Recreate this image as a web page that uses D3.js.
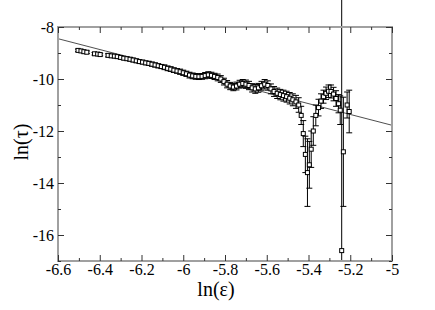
<!DOCTYPE html>
<html>
<head>
<meta charset="utf-8">
<script src="https://cdn.jsdelivr.net/npm/d3@7"></script>
<style>
  body { margin: 0; background: #fff; }
  svg text { font-family: "Liberation Serif", "Times New Roman", "DejaVu Serif", serif; }
</style>
</head>
<body>
<div id="chart"></div>
<script>
  // ln(epsilon), ln(tau) and the error on ln(tau)
  const lnEps = [
    -6.504, -6.490, -6.476, -6.462, -6.425, -6.410, -6.398, -6.360, -6.345, -6.330,
    -6.316, -6.300, -6.285, -6.270, -6.255, -6.240, -6.225, -6.210, -6.195, -6.180,
    -6.165, -6.150, -6.135, -6.120, -6.105, -6.090, -6.075, -6.060, -6.045, -6.030,
    -6.015, -6.000, -5.985, -5.970, -5.955, -5.940, -5.925, -5.910, -5.895, -5.880,
    -5.865, -5.850, -5.835, -5.820, -5.805, -5.790, -5.775, -5.760, -5.745, -5.730,
    -5.715, -5.700, -5.685, -5.670, -5.655, -5.640, -5.625, -5.610, -5.595, -5.580,
    -5.565, -5.550, -5.535, -5.520, -5.505, -5.490, -5.475, -5.460, -5.447, -5.435,
    -5.425, -5.415, -5.405, -5.396, -5.387, -5.377, -5.365, -5.352, -5.340, -5.328,
    -5.316, -5.304, -5.292, -5.280, -5.268, -5.256, -5.248, -5.241, -5.233, -5.215,
    -5.205
  ];
  const lnTau = [
    -8.90, -8.92, -8.95, -8.97, -9.03, -9.04, -9.06, -9.09, -9.11, -9.12,
    -9.14, -9.17, -9.20, -9.22, -9.24, -9.27, -9.30, -9.33, -9.35, -9.38,
    -9.40, -9.43, -9.46, -9.49, -9.52, -9.55, -9.59, -9.62, -9.66, -9.69,
    -9.72, -9.76, -9.80, -9.85, -9.88, -9.90, -9.91, -9.90, -9.87, -9.84,
    -9.86, -9.90, -9.94, -10.00, -10.10, -10.20, -10.27, -10.31, -10.27, -10.20,
    -10.17, -10.20, -10.25, -10.34, -10.38, -10.34, -10.26, -10.20, -10.25, -10.38,
    -10.48, -10.55, -10.60, -10.64, -10.68, -10.74, -10.80, -10.88, -11.00, -11.40,
    -12.10, -12.90, -13.60, -13.30, -12.70, -12.00, -11.40, -11.10, -10.85, -10.68,
    -10.55, -10.47, -10.48, -10.58, -10.75, -10.95, -11.20, -16.60, -12.80, -11.00,
    -11.25
  ];
  const tauErr = [
    0.05, 0.05, 0.05, 0.05, 0.05, 0.05, 0.05, 0.06, 0.06, 0.06,
    0.06, 0.06, 0.06, 0.06, 0.07, 0.07, 0.07, 0.07, 0.07, 0.07,
    0.08, 0.08, 0.08, 0.08, 0.08, 0.09, 0.09, 0.09, 0.09, 0.09,
    0.10, 0.10, 0.10, 0.11, 0.11, 0.11, 0.11, 0.11, 0.12, 0.12,
    0.12, 0.12, 0.13, 0.13, 0.13, 0.14, 0.14, 0.14, 0.15, 0.15,
    0.15, 0.16, 0.16, 0.16, 0.17, 0.17, 0.17, 0.18, 0.18, 0.19,
    0.19, 0.20, 0.20, 0.21, 0.21, 0.22, 0.23, 0.25, 0.28, 0.35,
    0.50, 0.70, 1.30, 0.90, 0.70, 0.55, 0.40, 0.32, 0.28, 0.25,
    0.24, 0.24, 0.25, 0.26, 0.30, 0.35, 0.55, 9.80, 2.10, 0.50,
    0.82
  ];

  // straight-line fit, end points
  const fitEps = [-6.6, -5.0];
  const fitTau = [-8.45, -11.78];

  const xTicks = [-6.6, -6.4, -6.2, -6.0, -5.8, -5.6, -5.4, -5.2, -5.0];
  const xMinorTicks = [-6.5, -6.3, -6.1, -5.9, -5.7, -5.5, -5.3, -5.1];
  const yTicks = [-8, -10, -12, -14, -16];
  const yMinorTicks = [-9, -11, -13, -15, -17];

  const width = 435;
  const height = 310;
  const margin = {top: 27, right: 43, bottom: 49, left: 58};
  const innerW = width - margin.left - margin.right;
  const innerH = height - margin.top - margin.bottom;
  const serif = '"Liberation Serif", "Times New Roman", "DejaVu Serif", serif';

  const svg = d3.select('#chart')
    .append('svg')
    .attr('width', width)
    .attr('height', height);

  const g = svg.append('g')
    .attr('transform', `translate(${margin.left},${margin.top})`);

  const x = d3.scaleLinear().domain([-6.6, -5.0]).range([0, innerW]);
  const y = d3.scaleLinear().domain([-17, -8]).range([innerH, 0]);

  const data = lnEps.map((e, i) => ({x: e, y: lnTau[i], err: tauErr[i]}));

  // fit line
  g.append('line')
    .attr('x1', x(fitEps[0]))
    .attr('y1', y(fitTau[0]))
    .attr('x2', x(fitEps[1]))
    .attr('y2', y(fitTau[1]))
    .attr('stroke', '#222')
    .attr('stroke-width', 0.8);

  // error bars (clipped at the bottom of the frame only)
  const capW = 3;
  const bars = g.append('g')
    .attr('stroke', '#000')
    .attr('stroke-width', 1);

  data.forEach((d) => {
    const lo = Math.max(d.y - d.err, -17);
    const hi = d.y + d.err;
    bars.append('line')
      .attr('x1', x(d.x)).attr('x2', x(d.x))
      .attr('y1', y(lo)).attr('y2', y(hi));
    bars.append('line')
      .attr('x1', x(d.x) - capW).attr('x2', x(d.x) + capW)
      .attr('y1', y(hi)).attr('y2', y(hi));
    if (d.y - d.err > -17) {
      bars.append('line')
        .attr('x1', x(d.x) - capW).attr('x2', x(d.x) + capW)
        .attr('y1', y(lo)).attr('y2', y(lo));
    }
  });

  // markers: small open squares
  g.append('g')
    .selectAll('rect')
    .data(data)
    .join('rect')
    .attr('x', (d) => x(d.x) - 2)
    .attr('y', (d) => y(d.y) - 2)
    .attr('width', 4)
    .attr('height', 4)
    .attr('fill', '#fff')
    .attr('stroke', '#000')
    .attr('stroke-width', 1);

  // frame
  g.append('rect')
    .attr('width', innerW)
    .attr('height', innerH)
    .attr('fill', 'none')
    .attr('stroke', '#a0a0a0')
    .attr('stroke-width', 2);

  // ticks: all inward, on all four sides
  function styleAxis(sel) {
    sel.attr('font-family', serif).attr('font-size', 16);
    sel.select('.domain').remove();
    sel.selectAll('.tick line').attr('stroke', '#333');
    sel.selectAll('.tick text')
      .attr('fill', '#000')
      .style('font-family', serif)
      .style('font-size', '16px');
  }

  const fmt = (v) => String(+v.toFixed(1));

  g.append('g')
    .attr('transform', `translate(0,${innerH})`)
    .call(d3.axisBottom(x).tickValues(xTicks).tickSize(-6).tickPadding(3).tickFormat(fmt))
    .call(styleAxis);
  g.append('g')
    .attr('transform', `translate(0,${innerH})`)
    .call(d3.axisBottom(x).tickValues(xMinorTicks).tickSize(-3).tickFormat(''))
    .call(styleAxis);
  g.append('g')
    .call(d3.axisTop(x).tickValues(xTicks).tickSize(-6).tickFormat(''))
    .call(styleAxis);
  g.append('g')
    .call(d3.axisTop(x).tickValues(xMinorTicks).tickSize(-3).tickFormat(''))
    .call(styleAxis);

  g.append('g')
    .call(d3.axisLeft(y).tickValues(yTicks).tickSize(-6).tickPadding(4).tickFormat(fmt))
    .call(styleAxis);
  g.append('g')
    .call(d3.axisLeft(y).tickValues(yMinorTicks).tickSize(-3).tickFormat(''))
    .call(styleAxis);
  g.append('g')
    .attr('transform', `translate(${innerW},0)`)
    .call(d3.axisRight(y).tickValues(yTicks).tickSize(-6).tickFormat(''))
    .call(styleAxis);
  g.append('g')
    .attr('transform', `translate(${innerW},0)`)
    .call(d3.axisRight(y).tickValues(yMinorTicks).tickSize(-3).tickFormat(''))
    .call(styleAxis);

  // axis titles
  svg.append('text')
    .attr('x', margin.left + innerW / 2 - 9)
    .attr('y', 296)
    .attr('text-anchor', 'middle')
    .style('font-family', serif)
    .style('font-size', '20px')
    .text('ln(ε)');

  svg.append('text')
    .attr('transform', `translate(28,${margin.top + 115}) rotate(-90)`)
    .attr('text-anchor', 'middle')
    .style('font-family', serif)
    .style('font-size', '20px')
    .text('ln(τ)');
</script>
</body>
</html>
